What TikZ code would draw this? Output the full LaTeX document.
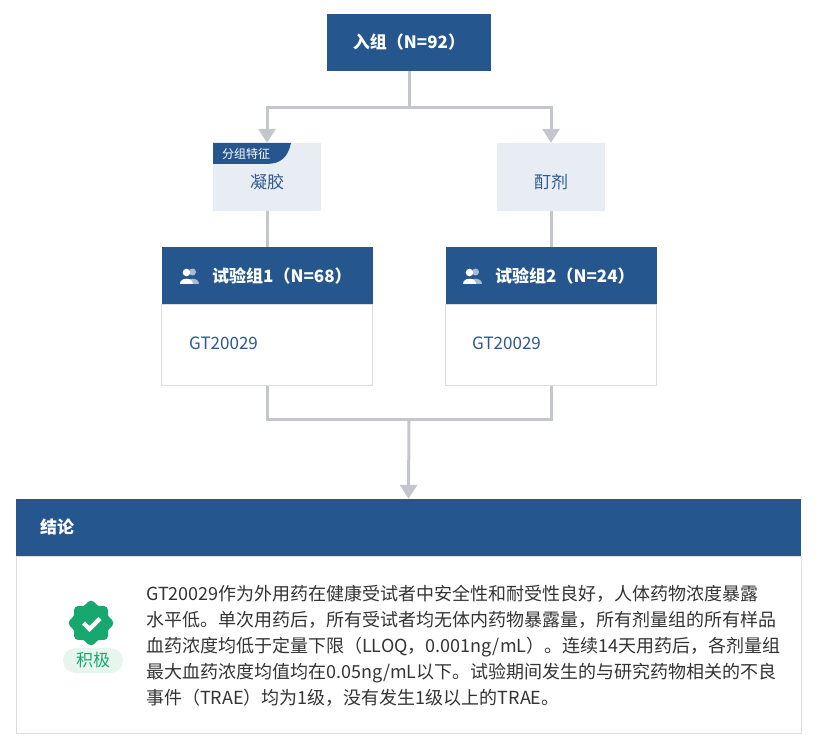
\documentclass[tikz,border=0pt]{standalone}
\usepackage{fontspec}
\setmainfont{Noto Sans CJK SC}
\usetikzlibrary{positioning,arrows.meta}
\definecolor{hdrblue}{RGB}{37,87,142}
\definecolor{featbg}{RGB}{232,237,244}
\definecolor{conngray}{RGB}{195,198,203}
\definecolor{boxline}{RGB}{221,221,223}
\definecolor{txtblue}{RGB}{45,88,145}
\definecolor{okgreen}{RGB}{22,168,110}
\definecolor{pillgreen}{RGB}{230,246,238}
\definecolor{bodytxt}{RGB}{51,51,51}
\tikzset{
  hdr/.style={fill=hdrblue,text=white,inner sep=0pt,font=\fontsize{17}{20}\selectfont\bfseries},
  feat/.style={fill=featbg,text=txtblue,minimum width=108,minimum height=68,inner sep=0pt,text height=24pt,text depth=0pt,font=\fontsize{17}{20}\selectfont},
  grphead/.style={fill=hdrblue,minimum width=211,minimum height=57,inner sep=0pt},
  grpbody/.style={draw=boxline,line width=1pt,fill=white,minimum width=211,minimum height=81,inner sep=0pt},
  blue text/.style={text=txtblue,anchor=west,inner sep=0pt,font=\fontsize{17}{20}\selectfont},
  white text/.style={text=white,anchor=west,inner sep=0pt,font=\fontsize{17}{20}\selectfont\bfseries},
  conn/.style={draw=conngray,line width=3pt},
  tip/.style={-{Triangle[width=17pt,length=14pt]}},
  users/.pic={
    \fill[white,opacity=.6] (12.5,-11.5) circle(3.5);
    \fill[white,opacity=.6] (6,0) .. controls (6,-7) and (19,-7) .. (19,0) -- cycle;
    \fill[white] (0,0) .. controls (0,-6.5) and (13,-6.5) .. (13,0) -- cycle;
    \fill[white] (6.5,-11) circle(3.8);
  }
}
\begin{document}
\begin{tikzpicture}[x=1pt,y=-1pt]
\useasboundingbox (0,0) rectangle (829,751);

\node[hdr,minimum width=164,minimum height=57] (enroll) at (409,42.5) {入组（N=92）};
\coordinate (split) at (409,108);

\node[feat] (featL) at (267,177) {凝胶};
\node[feat] (featR) at (551,177) {酊剂};
\fill[hdrblue] (213,143) -- (291,143) .. controls (288,157) and (281,164) .. (266,164) -- (213,164) -- cycle;
\node[text=white,inner sep=0pt,font=\fontsize{12}{14}\selectfont] (tab) at (246,153.5) {分组特征};

\node[grphead] (grpL) at (267,275.5) {};
\node[grpbody,below=0pt of grpL] (bodyL) {};
\node[grphead] (grpR) at (551,275.5) {};
\node[grpbody,below=0pt of grpR] (bodyR) {};
\pic at (180,283.5) {users};
\pic at (463,283.5) {users};
\node[white text] (nameL) at (212,275.5) {试验组1（N=68）};
\node[white text] (nameR) at (495,275.5) {试验组2（N=24）};
\node[blue text] (drugL) at (189,343.5) {GT20029};
\node[blue text] (drugR) at (472,343.5) {GT20029};

\draw[conn] (enroll.south) -- (split);
\draw[conn,tip] (split) -| (featL.north);
\draw[conn,tip] (split) -| (featR.north);
\draw[conn] (featL.south) -- (grpL.north);
\draw[conn] (featR.south) -- (grpR.north);
\coordinate (join) at (409,419);
\draw[conn] (bodyL.south) |- (join) -| (bodyR.south);

\node[hdr,minimum width=785,minimum height=57] (conclH) at (408.5,527.5) {};
\node[draw=boxline,line width=1pt,minimum width=785,minimum height=177,inner sep=0pt,below=0pt of conclH] (conclB) {};
\node[white text] (conclT) at (40,527) {结论};
\draw[conn,tip] (join) -- (conclH.north);

\fill[okgreen] plot[smooth cycle,domain=0:352.5,samples=48] ({91+(20.5+1.8*cos(8*\x))*cos(\x)},{623+(20.5+1.8*cos(8*\x))*sin(\x)});
\draw[white,line width=4.5pt] (83.5,623) -- (89.5,629) -- (100,618.5);
\node[fill=pillgreen,text=okgreen,rounded corners=12.5pt,minimum width=60,minimum height=25,inner sep=0pt,font=\fontsize{17}{20}\selectfont] (verdict) at (93,660.5) {积极};

\node[anchor=west,align=left,inner sep=0pt,text=bodytxt,font=\fontsize{18}{26}\selectfont] (summary) at (146,645.5) {GT20029作为外用药在健康受试者中安全性和耐受性良好，人体药物浓度暴露\\水平低。单次用药后，所有受试者均无体内药物暴露量，所有剂量组的所有样品\\血药浓度均低于定量下限（LLOQ，0.001ng/mL）。连续14天用药后，各剂量组\\最大血药浓度均值均在0.05ng/mL以下。试验期间发生的与研究药物相关的不良\\事件（TRAE）均为1级，没有发生1级以上的TRAE。};
\end{tikzpicture}
\end{document}
